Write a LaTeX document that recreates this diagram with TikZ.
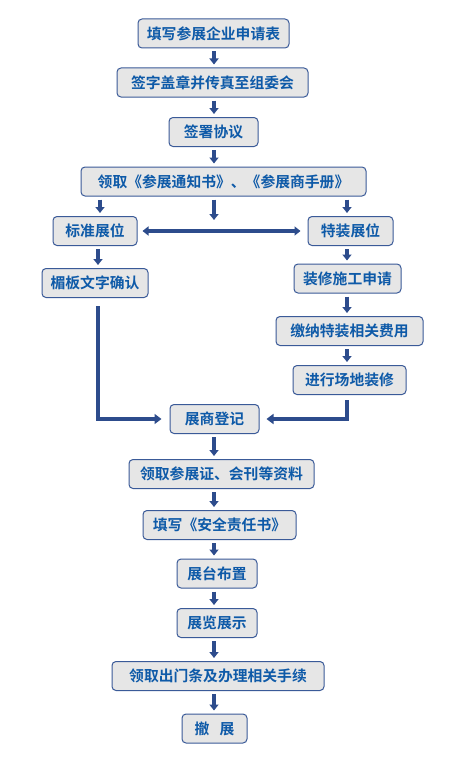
\documentclass[tikz,border=0pt]{standalone}
\usepackage{fontspec}
\setmainfont{Noto Sans CJK SC}[BoldFont={Noto Sans CJK SC Bold}]
\usepackage{xcolor}
\usetikzlibrary{arrows.meta, calc}
\definecolor{boxline}{HTML}{3A5A98}
\definecolor{boxfill}{HTML}{E6E6E6}
\definecolor{txtblue}{HTML}{0E5AA8}
\definecolor{arrowblue}{HTML}{2D4C8C}
\tikzstyle{stepbox} = [draw=boxline, fill=boxfill, line width=1pt, rounded corners=4pt,
  text=txtblue, font=\fontsize{14.8}{16}\selectfont\bfseries, minimum height=29pt, inner sep=0pt]
\tikzstyle{arrow} = [arrowblue, line width=3.2pt, -{Triangle[width=9pt,length=6pt]},
  shorten <=3pt, shorten >=3pt]
\tikzstyle{elbow} = [arrowblue, line width=4.2pt, -{Triangle[width=10pt,length=7pt]}]

\begin{document}
\begin{tikzpicture}[x=1pt, y=-1pt]
        \useasboundingbox[fill=white] (0,0) rectangle (460,760);

        % Main steps
        \node[stepbox, minimum width=151pt] (apply) at (213.5,33.5) {填写参展企业申请表};
        \node[stepbox, minimum width=191pt] (fax) at (212.5,82.5) {签字盖章并传真至组委会};
        \node[stepbox, minimum width=89pt] (sign) at (213.5,132) {签署协议};
        \node[stepbox, minimum width=285pt] (manual) at (223.5,181.5) {领取《参展通知书》、《参展商手册》};

        % Booth types
        \node[stepbox, minimum width=84pt] (std) at (95,231) {标准展位};
        \node[stepbox, minimum width=85pt] (spec) at (350.5,231) {特装展位};
        \node[stepbox, minimum width=106pt] (fascia) at (95,283) {楣板文字确认};
        \node[stepbox, minimum width=107pt] (build) at (347.5,278.5) {装修施工申请};
        \node[stepbox, minimum width=147pt] (fee) at (349.5,331) {缴纳特装相关费用};
        \node[stepbox, minimum width=113pt] (deco) at (349.5,380) {进行场地装修};

        % Later steps
        \node[stepbox, minimum width=89pt] (reg) at (214.5,419) {展商登记};
        \node[stepbox, minimum width=185pt] (badge) at (221.5,474) {领取参展证、会刊等资料};
        \node[stepbox, minimum width=153pt] (safety) at (219.5,525) {填写《安全责任书》};
        \node[stepbox, minimum width=80pt] (setup) at (217,573.5) {展台布置};
        \node[stepbox, minimum width=80pt] (show) at (217,623) {展览展示};
        \node[stepbox, minimum width=212pt] (exit) at (218,676) {领取出门条及办理相关手续};
        \node[stepbox, minimum width=65pt] (out) at (214.5,728.5) {撤\hspace{0.7em}展};

        % Main chain arrows
        \foreach \a/\b in {apply/fax, fax/sign, sign/manual, reg/badge, badge/safety,
          safety/setup, setup/show, show/exit, exit/out}
          \draw[arrow] (214,0 |- \a.south) -- (214,0 |- \b.north);

        % Branch arrows
        \coordinate (mid) at (214,223);
        \draw[arrow] (214,0 |- manual.south) -- (mid);
        \draw[arrow] (100,0 |- manual.south) -- (100,0 |- std.north);
        \draw[arrow] (347,0 |- manual.south) -- (347,0 |- spec.north);
        \draw[arrowblue, line width=3.2pt, {Triangle[width=9pt,length=6pt]}-{Triangle[width=9pt,length=6pt]},
          shorten <=5pt, shorten >=7pt] (std.east) -- (spec.west);
        \draw[arrow] (98,0 |- std.south) -- (98,0 |- fascia.north);
        \foreach \a/\b in {spec/build, build/fee, fee/deco}
          \draw[arrow] (347,0 |- \a.south) -- (347,0 |- \b.north);

        % Merge into registration
        \draw[elbow, shorten <=8pt, shorten >=8pt] (98,0 |- fascia.south) |- (reg.west);
        \draw[elbow, shorten <=5pt, shorten >=7pt] (347,0 |- deco.south) |- (reg.east);
      \end{tikzpicture}
\end{document}
